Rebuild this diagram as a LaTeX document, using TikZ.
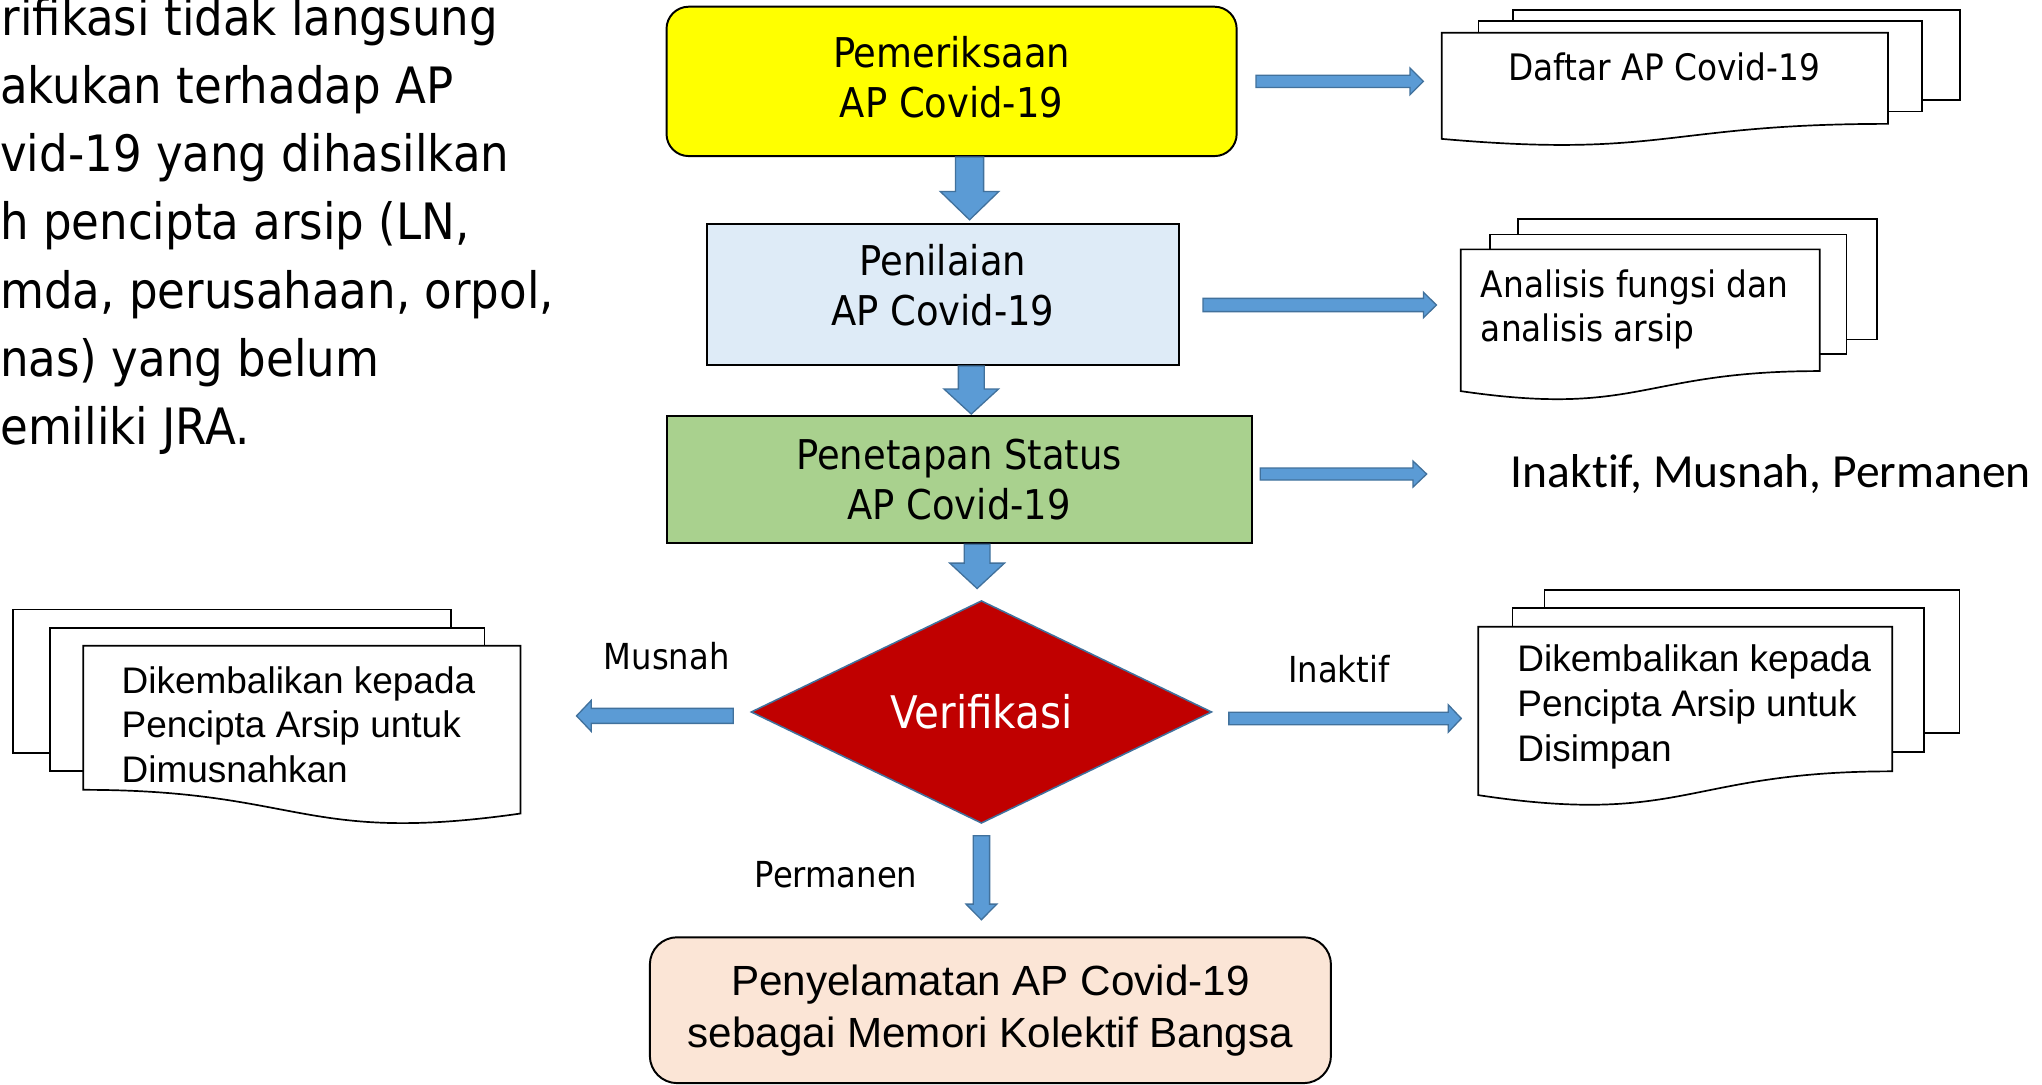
\documentclass[tikz,border=0pt]{standalone}
\usepackage{fontspec}
\usetikzlibrary{shapes.geometric,calc}
\newfontfamily\tah{DejaVu Sans Condensed}
\newfontfamily\ari{Liberation Sans}
\newfontfamily\calfont[Ligatures=NoCommon]{Carlito}
\definecolor{cYellow}{HTML}{FFFF00}
\definecolor{cLBlue}{HTML}{DEEBF7}
\definecolor{cGreen}{HTML}{A9D18E}
\definecolor{cRed}{HTML}{C00000}
\definecolor{cPeach}{HTML}{FBE5D6}
\definecolor{arrfill}{HTML}{5B9BD5}
\definecolor{arrline}{HTML}{41719C}
\tikzset{
  boxbase/.style={draw=black, line width=1.5pt, inner sep=0pt, align=center,
    font=\tah\fontsize{31.5}{38.5}\selectfont},
  boxlabel/.style={inner sep=0pt, align=center, font=\tah\fontsize{31.5}{38.5}\selectfont},
  blk/.style={fill=arrfill, draw=arrline, line width=1pt, line join=miter},
  docline/.style={draw=black, line width=1.3pt, fill=white},
  lbl/.style={inner sep=0pt, font=\tah\fontsize{27.5}{33}\selectfont},
  doctxt/.style={inner sep=0pt, align=left, anchor=west},
  paratxt/.style={inner sep=0pt, anchor=base west, font=\tah\fontsize{38.5}{52}\selectfont},
}
% block arrows: #1 start, #2 tip, #3 shaft half width, #4 head half width, #5 head length
\newcommand\blkdown[5]{\path[blk] let \p1=(#1), \p2=(#2) in
  (\x1-#3,\y1) -- (\x1-#3,\y2+#5) -- (\x1-#4,\y2+#5) -- (\x1,\y2) --
  (\x1+#4,\y2+#5) -- (\x1+#3,\y2+#5) -- (\x1+#3,\y1) -- cycle;}
\newcommand\blkright[5]{\path[blk] let \p1=(#1), \p2=(#2) in
  (\x1,\y1+#3) -- (\x2-#5,\y1+#3) -- (\x2-#5,\y1+#4) -- (\x2,\y1) --
  (\x2-#5,\y1-#4) -- (\x2-#5,\y1-#3) -- (\x1,\y1-#3) -- cycle;}
\newcommand\blkleft[5]{\path[blk] let \p1=(#1), \p2=(#2) in
  (\x1,\y1+#3) -- (\x2+#5,\y1+#3) -- (\x2+#5,\y1+#4) -- (\x2,\y1) --
  (\x2+#5,\y1-#4) -- (\x2+#5,\y1-#3) -- (\x1,\y1-#3) -- cycle;}
% document sheets: #1 left x, #2 top y, #3 right x, #4 height
\newcommand\docfront[4]{\path[docline] (#1,#2) -- (#3,#2) -- (#3,#2+0.802*#4)
  .. controls ({(#1+#3)/2},#2+0.802*#4) and ({(#1+#3)/2},#2+1.1075*#4) .. (#1,#2+0.934*#4) -- cycle;}
\newcommand\docfrontflip[4]{\path[docline] (#1,#2) -- (#3,#2) -- (#3,#2+0.934*#4)
  .. controls ({(#1+#3)/2},#2+1.1075*#4) and ({(#1+#3)/2},#2+0.802*#4) .. (#1,#2+0.802*#4) -- cycle;}
\begin{document}
\begin{tikzpicture}[x=1pt,y=-1pt]
\useasboundingbox (0,0) rectangle (1568,833);
\fill[white] (0,0) rectangle (1568,833);

% left paragraph (as printed, cut by the picture edge)
\node[paratxt] (p1) at (1,26.9) {rifikasi tidak langsung};
\node[paratxt] (p2) at (0,79.3) {akukan terhadap AP};
\node[paratxt] (p3) at (0,131.8) {vid-19 yang dihasilkan};
\node[paratxt] (p4) at (0,184.2) {h pencipta arsip (LN,};
\node[paratxt] (p5) at (0,236.6) {mda, perusahaan, orpol,};
\node[paratxt] (p6) at (0,289.1) {nas) yang belum};
\node[paratxt] (p7) at (0,341.5) {emiliki JRA.};

% main flow boxes
\node[boxbase, fill=cYellow, rounded corners=17pt, minimum width=437.8pt, minimum height=114.7pt,
  label={[name=yeltext, boxlabel, yshift=3pt]center:{Pemeriksaan\\AP Covid-19}}]
  (yel) at (730.7,62.5) {};
\node[boxbase, fill=cLBlue, minimum width=362pt, minimum height=108.3pt,
  label={[name=pentext, boxlabel, yshift=7pt]center:{Penilaian\\AP Covid-19}}]
  (pen) at (724,226.2) {};
\node[boxbase, fill=cGreen, minimum width=449pt, minimum height=97.8pt]
  (stat) at (736.5,368.3) {Penetapan Status\\AP Covid-19};
\node[diamond, fill=cRed, draw=arrline, line width=1.2pt, inner sep=0pt,
  minimum width=353.8pt, minimum height=171pt, text=white,
  font=\tah\fontsize{34.5}{40}\selectfont] (ver) at (753.6,546.7) {Verifikasi};
\node[boxbase, fill=cPeach, rounded corners=21pt, minimum width=523pt, minimum height=112pt,
  font=\ari\fontsize{32.4}{40}\selectfont]
  (save) at (760.5,775.7) {Penyelamatan AP Covid-19\\sebagai Memori Kolektif Bangsa};

% Daftar document stack
\path[docline] (1162,7.7) rectangle (1504.9,76.8);
\path[docline] (1135.4,16.1) rectangle (1475.6,85.7);
\docfront{1107}{25.1}{1449.8}{87.3}
\coordinate (dafL) at (1107,62.4);
\node[inner sep=0pt, font=\tah\fontsize{28}{34}\selectfont] (daftar) at (1278,51.2) {Daftar AP Covid-19};

% Analisis document stack
\path[docline] (1165.6,168.4) rectangle (1441.3,260.6);
\path[docline] (1144.2,180) rectangle (1417.8,272);
\docfront{1121.6}{191.5}{1397.3}{116.5}
\coordinate (anaL) at (1121.6,234.2);
\node[doctxt, font=\tah\fontsize{28}{33.5}\selectfont] (analisis) at (1137,237.5) {Analisis fungsi dan\\analisis arsip};

% status result
\node[inner sep=0pt, anchor=west, font=\calfont\fontsize{36.5}{44}\selectfont] (statres) at (1160,364) {Inaktif, Musnah, Permanen};

% Dimusnahkan document stack (mirrored)
\path[docline] (9.9,467.9) rectangle (346.1,578);
\path[docline] (38.4,482) rectangle (372.1,592);
\docfrontflip{63.9}{495.8}{399.6}{138}
\coordinate (musR) at (399.6,549.8);
\node[doctxt, font=\ari\fontsize{28.4}{34.5}\selectfont] (musdoc) at (93.2,556.5)
  {Dikembalikan kepada\\Pencipta Arsip untuk\\Dimusnahkan};

% Disimpan document stack
\path[docline] (1185.9,453) rectangle (1504.7,563.1);
\path[docline] (1161.3,467.1) rectangle (1477.3,577.2);
\docfront{1135.1}{481.2}{1453}{138.5}
\coordinate (simL) at (1135.1,551.7);
\node[doctxt, font=\ari\fontsize{28.4}{34.5}\selectfont] (simdoc) at (1165,543)
  {Dikembalikan kepada\\Pencipta Arsip untuk\\Disimpan};

% labels
\node[lbl] (lmus) at (512,504.2) {Musnah};
\node[lbl] (lperm) at (642,672) {Permanen};
\node[lbl] (linak) at (1028,514) {Inaktif};

% vertical block arrows
\blkdown{$(yel.south)+(13.8,0)$}{$(pen.north)+(0,-2.5)$}{10.8pt}{22.5pt}{21.8pt}
\blkdown{$(pen.south)+(21.8,0)$}{$(stat.north)+(0,-0.7)$}{9.9pt}{20.9pt}{19.2pt}
\blkdown{$(stat.south)+(13.8,0)$}{$(ver.north)+(0,-8.7)$}{9.9pt}{21pt}{19.5pt}
\blkdown{$(ver.south)+(0,9)$}{$(save.north)+(0,-12.7)$}{6.3pt}{11.8pt}{12pt}

% horizontal block arrows
\blkright{$(yel.east)+(14.1,0)$}{$(dafL)+(-14,0)$}{4.7pt}{10.3pt}{10.3pt}
\blkright{$(pen.east)+(18,8)$}{$(anaL)+(-18.6,0)$}{5.1pt}{9.8pt}{10pt}
\blkright{$(stat.east)+(6,-4.3)$}{$(statres.west)+(-64.5,0)$}{4.6pt}{10pt}{10.5pt}
\blkright{$(ver.east)+(12.5,5)$}{$(simL)+(-13,0)$}{4.8pt}{10.5pt}{10pt}
\blkleft{$(ver.west)+(-13,3)$}{$(musR)+(43.1,0)$}{5.75pt}{11.9pt}{11.3pt}
\end{tikzpicture}
\end{document}
